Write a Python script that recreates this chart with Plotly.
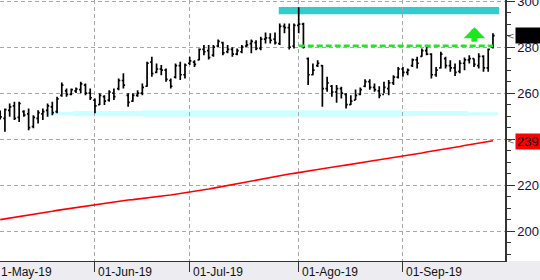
import pandas as pd
import plotly.graph_objects as go

# ---------------- data ----------------
dates = [d + pd.Timedelta(hours=12) for d in pd.bdate_range("2019-05-06", "2019-09-27")]

opens = [251.5, 249.0, 252.5, 254.5, 249.5, 252.0, 251.0, 245.5, 249.0, 251.0,
         252.5, 254.0, 252.0, 259.0, 261.0, 259.5, 261.0, 261.5, 263.5, 260.0,
         257.0, 255.0, 258.5, 257.0, 260.0, 262.0, 265.5, 259.0, 256.5, 259.0,
         260.0, 263.0, 273.5, 269.0, 270.5, 270.0, 265.5, 267.0, 272.0, 268.0,
         273.0, 273.5, 274.5, 279.0, 278.5, 276.5, 280.5, 282.0, 278.0, 279.0,
         277.0, 278.0, 280.5, 281.5, 282.0, 279.5, 283.5, 284.0, 283.5, 281.5,
         289.0, 288.5, 280.5,
         289.5, 290.0, 275.0, 268.0, 272.0, 272.0, 262.0, 263.0, 260.5, 262.0,
         259.5, 255.0, 257.0, 259.5, 263.0, 265.0, 262.5, 261.0, 259.5, 262.0,
         264.5, 267.0,
         270.5, 269.0, 272.0, 274.5, 276.0, 278.5, 277.0, 268.0, 271.0, 275.0,
         272.0, 271.0, 269.5, 273.0, 274.5, 275.0, 272.0, 276.0, 271.0, 280.0]
highs = [252.5, 253.3, 255.5, 256.2, 256.2, 252.6, 253.3, 250.4, 252.6, 253.3,
         255.5, 256.2, 258.4, 264.6, 262.0, 262.0, 262.5, 264.9, 264.2, 262.0,
         257.7, 259.9, 259.1, 261.3, 262.0, 266.4, 268.6, 259.9, 259.9, 261.3,
         264.2, 273.6, 275.8, 272.9, 272.2, 270.7, 266.4, 272.9, 273.6, 272.9,
         275.8, 274.3, 279.4, 280.9, 280.9, 280.9, 283.3, 282.3, 280.9, 279.9,
         279.4, 280.9, 283.0, 283.3, 283.0, 284.5, 286.4, 286.0, 286.4, 290.3,
         290.3, 290.3, 290.3,
         297.3, 290.6, 275.5, 272.9, 274.3, 272.2, 267.1, 263.5, 263.5, 262.8,
         259.9, 259.1, 261.6, 262.5, 266.0, 266.0, 264.2, 263.0, 264.9, 265.7,
         267.8, 271.4,
         271.4, 270.7, 275.1, 275.8, 279.4, 280.1, 277.3, 271.4, 278.0, 275.8,
         274.3, 272.9, 274.3, 275.5, 276.5, 275.1, 277.3, 276.5, 279.4, 286.0]
lows = [248.5, 243.2, 249.7, 248.3, 247.5, 249.7, 243.9, 244.7, 246.8, 248.3,
        249.7, 250.4, 251.2, 258.4, 258.4, 259.1, 260.1, 259.9, 259.1, 257.0,
        251.2, 254.8, 254.8, 256.2, 257.0, 261.3, 262.0, 254.1, 256.2, 258.4,
        259.1, 262.8, 267.1, 268.6, 267.8, 264.9, 262.0, 266.4, 265.7, 266.4,
        272.2, 271.4, 274.3, 276.5, 274.6, 275.8, 280.1, 276.5, 277.3, 275.8,
        276.5, 277.3, 280.1, 277.3, 278.7, 278.7, 281.6, 281.6, 281.2, 280.9,
        286.0, 279.0, 279.4,
        286.0, 279.4, 263.5, 267.8, 271.4, 254.1, 260.6, 258.4, 255.8, 257.7,
        253.3, 254.8, 257.0, 259.1, 262.6, 261.5, 260.6, 257.8, 259.9, 259.1,
        263.5, 266.4,
        267.1, 267.8, 271.4, 270.7, 275.8, 276.5, 266.4, 267.1, 270.7, 270.7,
        269.3, 267.4, 268.6, 270.0, 272.9, 271.4, 270.7, 269.3, 269.3, 279.4]
closes = [249.7, 252.8, 254.0, 249.0, 255.5, 250.5, 245.0, 249.5, 251.5, 252.0,
          254.5, 251.5, 257.5, 263.5, 259.5, 261.5, 261.8, 264.0, 260.0, 258.0,
          254.5, 259.0, 256.5, 260.5, 258.5, 265.5, 263.5, 256.0, 259.0, 260.0,
          262.5, 273.0, 268.5, 270.5, 270.0, 266.0, 263.0, 272.0, 268.0, 272.2,
          274.0, 272.5, 279.0, 278.0, 275.5, 280.0, 282.5, 277.5, 279.0, 277.0,
          278.5, 280.0, 281.0, 282.5, 279.5, 283.5, 284.0, 283.0, 282.0, 289.0,
          288.5, 280.0, 289.5,
          290.0, 280.0, 268.0, 270.0, 273.0, 262.0, 264.5, 260.5, 262.0, 260.0,
          255.0, 256.5, 259.0, 261.5, 265.0, 262.5, 261.5, 259.0, 262.5, 264.5,
          267.0, 270.5,
          269.0, 270.0, 274.5, 273.0, 278.5, 277.0, 268.0, 270.0, 277.0, 272.0,
          271.0, 269.0, 273.0, 274.5, 275.0, 272.5, 276.0, 271.0, 279.0, 285.0]

moving_avg = [205.0, 205.3, 205.6, 206.0, 206.3, 206.6, 207.0, 207.3, 207.6, 208.0,
              208.3, 208.6, 209.0, 209.3, 209.6, 210.0, 210.3, 210.7, 211.0, 211.4,
              211.7, 212.0, 212.2, 212.5, 212.7, 213.0, 213.2, 213.5, 213.7, 214.0,
              214.2, 214.5, 214.7, 215.0, 215.2, 215.5, 215.7, 216.0, 216.2, 216.5,
              216.8, 217.2, 217.6, 217.9, 218.3, 218.7, 219.1, 219.5, 219.8, 220.2,
              220.6, 221.0, 221.4, 221.7, 222.1, 222.5, 222.9, 223.3, 223.6, 224.0,
              224.4, 224.8, 225.1,
              225.5, 225.8, 226.2, 226.5, 226.8, 227.1, 227.5, 227.8, 228.1, 228.4,
              228.7, 229.1, 229.4, 229.7, 230.0, 230.4, 230.7, 231.0, 231.3, 231.7,
              232.0, 232.3,
              232.6, 233.0, 233.3, 233.7, 234.0, 234.4, 234.7, 235.1, 235.4, 235.8,
              236.1, 236.5, 236.8, 237.2, 237.5, 237.9, 238.2, 238.6, 238.9, 239.3]

month_ticks = ["2019-06-03 12:00", "2019-07-01 12:00", "2019-08-01 12:00", "2019-09-02 12:00"]
month_labels = ["01-Jun-19", "01-Jul-19", "01-Ago-19", "01-Sep-19"]
first_label = "1-May-19"

y_tickvals = [200, 220, 240, 260, 280, 300]
y_ticktext = ["200", "220", "", "260", "280", "300"]   # 240 is hidden under the red tag

breakout_level = 280.6
breakout_span = ["2019-08-01 12:00", "2019-09-27 12:00"]

# resistance band (dark cyan) and support band (light cyan, in segments)
resist_band = dict(x0="2019-07-26 07:00", x1="2019-09-30 19:00", y0=294.3, y1=297.5)
support_segments = [
    ("2019-05-20 10:00", "2019-05-27 21:00", 250.4, 251.9),
    ("2019-05-27 21:00", "2019-06-17 14:00", 250.0, 252.2),
    ("2019-06-17 14:00", "2019-09-02 07:00", 249.7, 252.6),
    ("2019-09-02 07:00", "2019-09-20 05:00", 250.1, 252.2),
    ("2019-09-20 05:00", "2019-09-30 14:00", 250.4, 251.7),
]

last_price = 285.0
ma_tag = "239"
arrow_point = ("2019-09-23 14:00", 288.6)

# ---------------- figure ----------------
fig = go.Figure()

fig.add_trace(go.Scatter(x=dates, y=moving_avg, mode="lines",
                         line=dict(color="#ff0000", width=1.6), hoverinfo="skip"))

fig.add_trace(go.Ohlc(x=dates, open=opens, high=highs, low=lows, close=closes,
                      increasing=dict(line=dict(color="black", width=1.7)),
                      decreasing=dict(line=dict(color="black", width=1.7)),
                      tickwidth=0.35))

fig.add_trace(go.Scatter(x=breakout_span, y=[breakout_level, breakout_level], mode="lines",
                         line=dict(color="#22e622", width=2.6, dash="6px,3px"),
                         hoverinfo="skip"))

shapes = [dict(type="rect", xref="x", yref="y", layer="below", line=dict(width=0),
               fillcolor="#33cccc", **resist_band)]
for x0, x1, y0, y1 in support_segments:
    shapes.append(dict(type="rect", xref="x", yref="y", layer="below", line=dict(width=0),
                       fillcolor="#ccffff", x0=x0, x1=x1, y0=y0, y1=y1))
# bottom label band
shapes.append(dict(type="rect", xref="paper", yref="paper", layer="below",
                   x0=0, x1=540 / 505, y0=-19 / 261, y1=0,
                   fillcolor="#ededf1", line=dict(width=0)))

annotations = []
for t, lab in zip(month_ticks, month_labels):
    annotations.append(dict(x=t, y=0, xref="x", yref="paper", text=lab, showarrow=False,
                            xanchor="left", yanchor="top", xshift=1, yshift=-2,
                            font=dict(family="Liberation Sans", size=12, color="#111")))
annotations.append(dict(x=0, y=0, xref="paper", yref="paper", text=first_label,
                        showarrow=False, xanchor="left", yanchor="top", xshift=-1, yshift=-2,
                        font=dict(family="Liberation Sans", size=12, color="#111")))
# price tags on the right axis
annotations.append(dict(x=1, y=last_price, xref="paper", yref="y", text=f"{last_price:.0f}",
                        showarrow=False, xanchor="left", xshift=10, width=34, height=13,
                        bgcolor="black", font=dict(family="Liberation Sans", size=11, color="black"),
                        borderpad=1, align="left"))
annotations.append(dict(x=1, y=float(ma_tag), xref="paper", yref="y", text=ma_tag,
                        showarrow=False, xanchor="left", xshift=10, width=34, height=13,
                        bgcolor="#ff0000", font=dict(family="Liberation Sans", size=13, color="black"),
                        borderpad=1, align="left"))
for yv in (last_price, float(ma_tag)):
    annotations.append(dict(x=1, y=yv, xref="paper", yref="y", text="&lt;", showarrow=False,
                            xanchor="left", xshift=0,
                            font=dict(family="DejaVu Sans", size=9, color="#555")))
# green up arrow
annotations.append(dict(x=arrow_point[0], y=arrow_point[1], xref="x", yref="y", text="",
                        showarrow=True, ax=0, ay=16, arrowhead=1, arrowsize=0.6,
                        arrowwidth=6, arrowcolor="#1ee61e", standoff=0))

grid = dict(showgrid=True, gridcolor="#a8a8a8", gridwidth=1, griddash="4px,3px")

fig.update_layout(
    width=540, height=280,
    margin=dict(l=0, r=35, t=0, b=19, autoexpand=False),
    paper_bgcolor="white", plot_bgcolor="white",
    showlegend=False,
    shapes=shapes, annotations=annotations,
    xaxis=dict(type="date", range=["2019-05-06 11:00", "2019-10-02 01:00"],
               rangebreaks=[dict(bounds=["sat", "mon"])],
               rangeslider=dict(visible=False), automargin=False,
               tickvals=month_ticks, showticklabels=False,
               ticks="outside", ticklen=10, tickcolor="#333", tickwidth=1,
               showline=True, linecolor="#333", linewidth=1, zeroline=False, **grid),
    yaxis=dict(side="right", range=[187, 300.5], automargin=False,
               tickvals=y_tickvals, ticktext=y_ticktext, ticklabeloverflow="allow",
               ticks="outside", ticklen=8, tickcolor="#333", tickwidth=1,
               minor=dict(dtick=5, ticks="outside", ticklen=4, tickcolor="#333", showgrid=False),
               showline=True, linecolor="#333", linewidth=1.5, zeroline=False,
               tickfont=dict(family="Liberation Sans", size=13, color="#10104a"), **grid),
)

fig.write_html("out.html", config={"displayModeBar": False})
